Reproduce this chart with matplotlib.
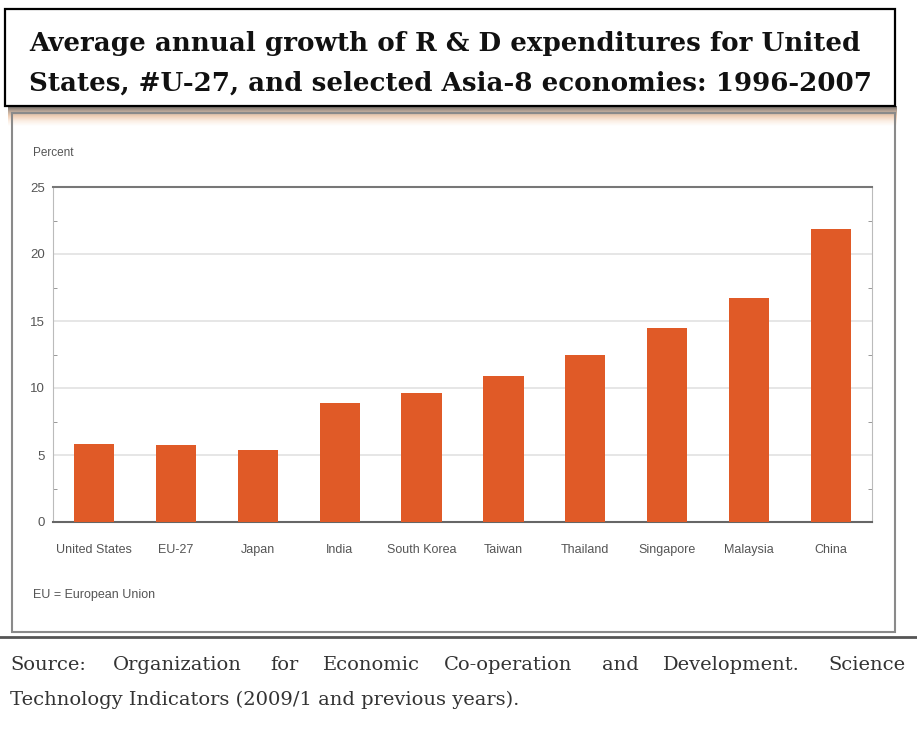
import matplotlib
matplotlib.use("Agg")
import matplotlib.pyplot as plt
from matplotlib.patches import Rectangle
from matplotlib.lines import Line2D
from matplotlib.colors import LinearSegmentedColormap
import numpy as np

# ---- data ----
countries = ["United States", "EU-27", "Japan", "India", "South Korea",
             "Taiwan", "Thailand", "Singapore", "Malaysia", "China"]
growth = [5.8, 5.75, 5.4, 8.9, 9.6, 10.9, 12.5, 14.5, 16.7, 21.9]
yticks = [0, 5, 10, 15, 20, 25]

title_lines = ["Average annual growth of R & D expenditures for United",
               "States, #U-27, and selected Asia-8 economies: 1996-2007"]
source_words = ["Source:", "Organization", "for", "Economic", "Co-operation",
                "and", "Development.", "Science"]
source_line2 = "Technology Indicators (2009/1 and previous years)."

W, H = 917, 732
fig = plt.figure(figsize=(W / 100, H / 100), dpi=100)
fig.patch.set_facecolor("white")


def fx(x):
    return x / W


def fy(y):
    return 1 - y / H


SANS = ["Liberation Sans", "DejaVu Sans"]
SERIF = ["DejaVu Serif"]

# ---- title box ----
fig.patches.append(Rectangle((fx(5), fy(106)), fx(895) - fx(5), fy(9) - fy(106),
                             transform=fig.transFigure, fill=False,
                             edgecolor="black", linewidth=1.6))
for i, line in enumerate(title_lines):
    fig.text(fx(29), fy(44 + i * 39), line, family=SERIF, fontweight="bold",
             fontsize=18.8, va="center", ha="left", color="#111111")

# ---- panel with peach shadow at top ----
grad_ax = fig.add_axes([fx(8), fy(126), fx(897) - fx(8), fy(106) - fy(126)])
grad = np.linspace(0, 1, 60).reshape(-1, 1)
cmap = LinearSegmentedColormap.from_list(
    "sh", ["#6f6a66", "#b9a697", "#efcfb6", "#fbeee4", "#ffffff"])
grad_ax.imshow(grad, aspect="auto", cmap=cmap, extent=[0, 1, 0, 1], origin="upper")
grad_ax.axis("off")

fig.patches.append(Rectangle((fx(12), fy(632)), fx(895) - fx(12), fy(113) - fy(632),
                             transform=fig.transFigure, fill=False,
                             edgecolor="#8a8a8a", linewidth=1.5))
fig.lines.append(Line2D([0, 1], [fy(637), fy(637)], transform=fig.transFigure,
                        color="#555555", linewidth=2))

# ---- chart ----
ax = fig.add_axes([fx(53), fy(522), fx(872) - fx(53), fy(187) - fy(522)])
x = np.arange(len(countries))
ax.bar(x, growth, width=0.49, color="#E05A27", zorder=3)
ax.set_xlim(-0.5, len(countries) - 0.5)
ax.set_ylim(0, 25)
ax.set_yticks(yticks)
ax.set_yticklabels([str(v) for v in yticks])
ax.set_yticks(np.arange(2.5, 25, 5), minor=True)
ax.set_xticks(x)
ax.set_xticklabels(countries)
ax.grid(axis="y", which="major", color="#e2e2e2", linewidth=1.2, zorder=0)
ax.tick_params(axis="y", which="major", length=0, pad=6, labelsize=9.5,
               labelcolor="#555555")
ax.tick_params(axis="y", which="minor", length=3, direction="in", left=True,
               right=True, color="#888888")
ax.tick_params(axis="x", length=0, pad=16, labelsize=9, labelcolor="#555555")
for lab in ax.get_xticklabels() + ax.get_yticklabels():
    lab.set_family(SANS)
ax.spines["top"].set_color("#777777")
ax.spines["top"].set_linewidth(1.5)
ax.spines["bottom"].set_color("#666666")
ax.spines["bottom"].set_linewidth(1.5)
ax.spines["left"].set_color("#bbbbbb")
ax.spines["right"].set_color("#bbbbbb")

fig.text(fx(33), fy(153), "Percent", family=SANS, fontsize=8.5, color="#555555",
         va="center", ha="left")
fig.text(fx(33), fy(595), "EU = European Union", family=SANS, fontsize=9,
         color="#555555", va="center", ha="left")

# ---- source (justified first line) ----
word_x = [10, 113, 270, 323, 444, 602, 663, 905]
for i, (wx, w) in enumerate(zip(word_x, source_words)):
    fig.text(fx(wx), fy(665), w, family=SERIF, fontsize=14, color="#333333",
             va="center", ha="right" if i == len(source_words) - 1 else "left")
fig.text(fx(10), fy(700), source_line2, family=SERIF, fontsize=14,
         color="#333333", va="center", ha="left")

fig.savefig("out.png", dpi=100, facecolor="white")
